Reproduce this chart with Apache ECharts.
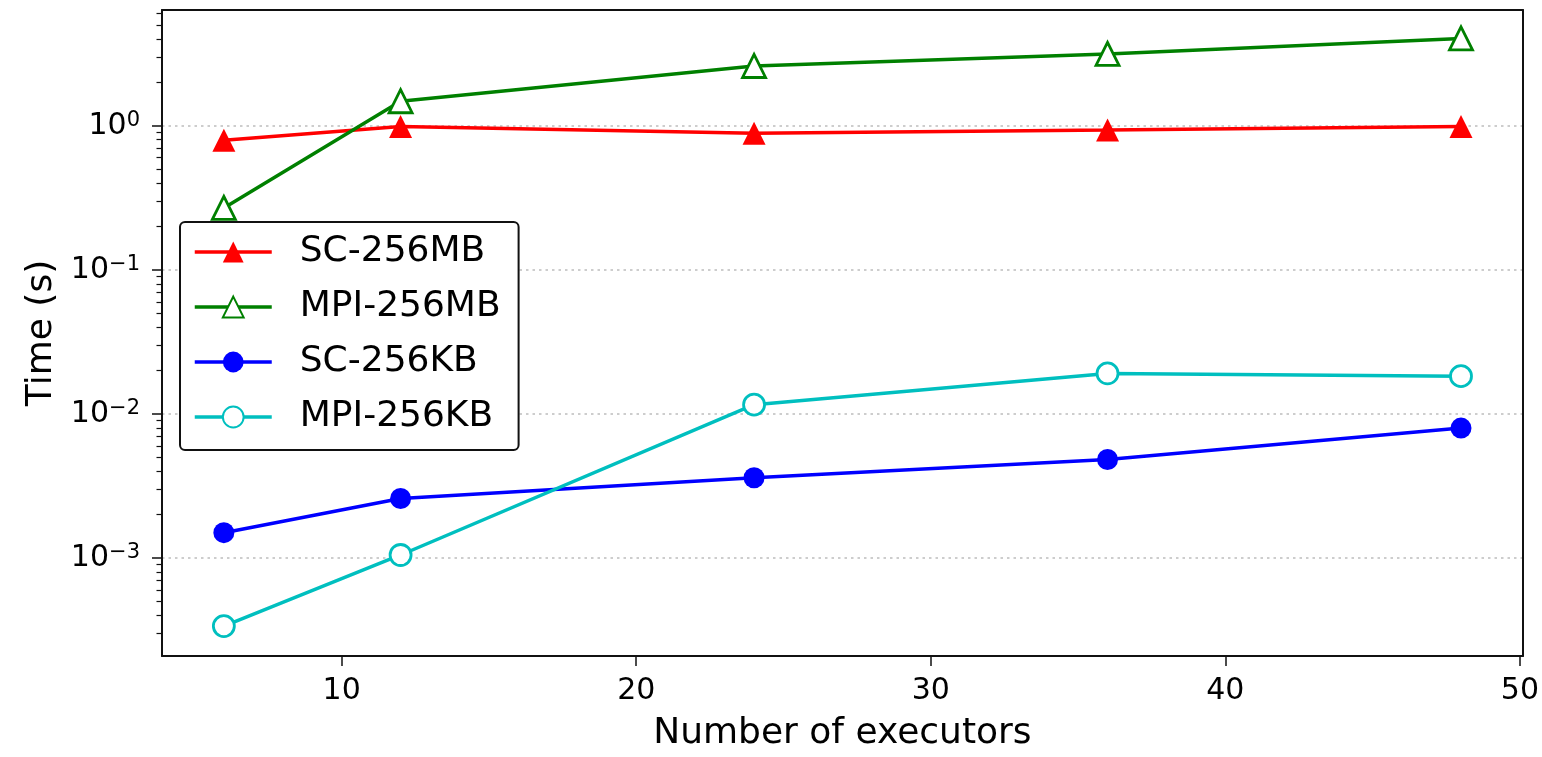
<!DOCTYPE html>
<html>
<head>
<meta charset="utf-8">
<title>Time vs number of executors</title>
<script src="https://cdn.jsdelivr.net/npm/echarts@6/dist/echarts.min.js"></script>
<style>
  html, body { margin: 0; padding: 0; background: #fff; }
  #chart { width: 1542px; height: 757px; }
</style>
</head>
<body>
<div id="chart"></div>
<script>
// Executor counts on the x axis
const executors = [6, 12, 24, 36, 48];

// Measured times in seconds
const sc256MB  = [0.792, 0.99, 0.889, 0.935, 0.99];
const mpi256MB = [0.269, 1.48, 2.60, 3.15, 4.04];
const sc256KB  = [0.00150, 0.00259, 0.00361, 0.00483, 0.00798];
const mpi256KB = [0.000337, 0.00105, 0.0116, 0.0191, 0.0183];

// Tick positions
const xTicks = [10, 20, 30, 40, 50];
const yTicks = [0.001, 0.01, 0.1, 1];

const FONT = 'DejaVu Sans';

function pairs(ys) {
  return executors.map((x, i) => [x, ys[i]]);
}

function powLabel(v) {
  const e = Math.round(Math.log10(v));
  const exp = e < 0 ? '\u2212' + Math.abs(e) : String(e);
  return '{b|10}{s|' + exp + '}';
}

function lineSeries(name, ys, color, symbol, hollow) {
  return {
    name: name,
    type: 'line',
    data: pairs(ys),
    symbol: symbol,
    symbolSize: symbol === 'triangle' ? 23 : 21,
    showSymbol: true,
    lineStyle: { color: color, width: 3.5 },
    itemStyle: hollow
      ? { color: '#ffffff', borderColor: color, borderWidth: 2.8 }
      : { color: color, borderWidth: 0 },
    emphasis: { disabled: true },
    z: 3
  };
}

const frameLine = { show: true, lineStyle: { color: '#111', width: 2 } };

const chart = echarts.init(document.getElementById('chart'), null, { renderer: 'canvas' });

chart.setOption({
  animation: false,
  backgroundColor: '#ffffff',
  textStyle: { fontFamily: FONT, color: '#000' },
  grid: { left: 162, right: 18, top: 10, bottom: 95, containLabel: false },
  legend: {
    orient: 'vertical',
    left: 180,
    top: 222,
    padding: [12, 18, 15, 13],
    itemWidth: 77,
    itemHeight: 26,
    itemGap: 19,
    lineStyle: { width: 3.5 },
    backgroundColor: '#ffffff',
    borderColor: '#111',
    borderWidth: 2,
    borderRadius: 5,
    textStyle: { fontFamily: FONT, fontSize: 36, color: '#000', padding: [0, 0, 0, 23] },
    data: ['SC-256MB', 'MPI-256MB', 'SC-256KB', 'MPI-256KB']
  },
  xAxis: [
    {
      type: 'value',
      min: 3.9,
      max: 50.1,
      name: 'Number of executors',
      nameLocation: 'middle',
      nameGap: 60,
      nameTextStyle: { fontFamily: FONT, fontSize: 36, color: '#000' },
      axisLine: frameLine,
      axisTick: { show: true, inside: false, length: 10, customValues: xTicks,
                  lineStyle: { color: '#111', width: 1.5 } },
      axisLabel: { show: true, margin: 20, fontFamily: FONT, fontSize: 30, color: '#000',
                   customValues: xTicks },
      splitLine: { show: false }
    },
    {
      type: 'value',
      position: 'top',
      min: 3.9,
      max: 50.1,
      axisLine: frameLine,
      axisTick: { show: false },
      axisLabel: { show: false },
      splitLine: { show: false }
    }
  ],
  yAxis: [
    {
      type: 'log',
      logBase: 10,
      min: 2.09e-4,
      max: 6.36,
      name: 'Time (s)',
      nameLocation: 'middle',
      nameRotate: 90,
      nameGap: 97,
      nameTextStyle: { fontFamily: FONT, fontSize: 36, color: '#000' },
      axisLine: frameLine,
      axisTick: { show: true, inside: false, length: 10, customValues: yTicks,
                  lineStyle: { color: '#111', width: 1.5 } },
      minorTick: { show: true, splitNumber: 9, length: 5.5,
                   lineStyle: { color: '#111', width: 1.2 } },
      axisLabel: {
        show: true,
        margin: 22,
        customValues: yTicks,
        formatter: powLabel,
        rich: {
          b: { fontFamily: FONT, fontSize: 30, lineHeight: 32, color: '#000' },
          s: { fontFamily: FONT, fontSize: 21, lineHeight: 20, color: '#000', verticalAlign: 'top' }
        }
      },
      splitLine: {
        show: true,
        showMinLine: true,
        showMaxLine: true,
        lineStyle: { color: '#bdbdbd', width: 1.5, type: [2.5, 4] }
      },
      minorSplitLine: { show: false }
    },
    {
      type: 'log',
      logBase: 10,
      position: 'right',
      min: 2.09e-4,
      max: 6.36,
      axisLine: frameLine,
      axisTick: { show: false },
      minorTick: { show: false },
      axisLabel: { show: false },
      splitLine: { show: false }
    }
  ],
  series: [
    lineSeries('SC-256MB', sc256MB, '#ff0000', 'triangle', false),
    lineSeries('MPI-256MB', mpi256MB, '#008000', 'triangle', true),
    lineSeries('SC-256KB', sc256KB, '#0000ff', 'circle', false),
    lineSeries('MPI-256KB', mpi256KB, '#00bfbf', 'circle', true)
  ]
});
</script>
</body>
</html>
